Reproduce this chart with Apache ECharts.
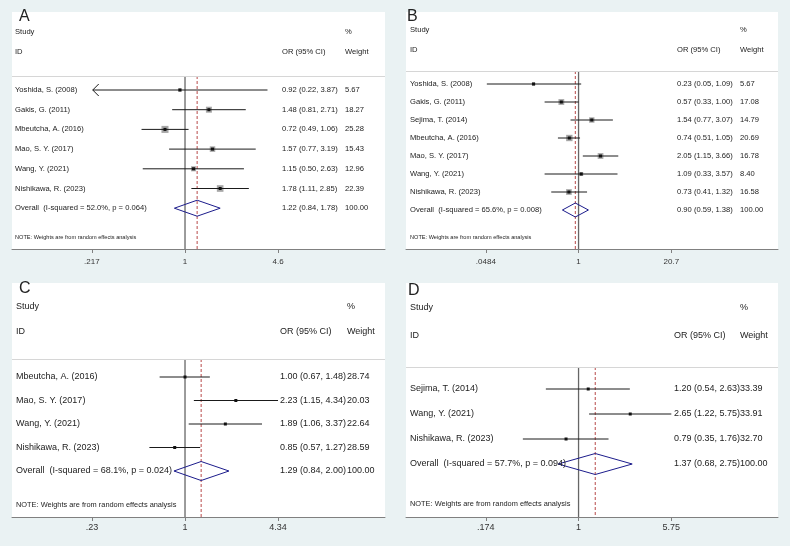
<!DOCTYPE html>
<html><head><meta charset="utf-8">
<script src="https://cdn.jsdelivr.net/npm/echarts@6/dist/echarts.min.js"></script>
<style>html,body{margin:0;padding:0;background:#eaf2f3}#c{width:790px;height:546px}</style>
</head><body><div id="c"></div><script>
// ---------------- data ----------------
const studiesA = ['Yoshida, S. (2008)', 'Gakis, G. (2011)', 'Mbeutcha, A. (2016)', 'Mao, S. Y. (2017)', 'Wang, Y. (2021)', 'Nishikawa, R. (2023)'];
const orA = [0.92, 1.48, 0.72, 1.57, 1.15, 1.78];
const lowA = [0.22, 0.81, 0.49, 0.77, 0.50, 1.11];
const highA = [3.87, 2.71, 1.06, 3.19, 2.63, 2.85];
const weightA = [5.67, 18.27, 25.28, 15.43, 12.96, 22.39];
const arrowLowA = [true, false, false, false, false, false];
const overallA = [1.22, 0.84, 1.78];
const hetA = ['52.0%', '0.064'];
const ticksA = [0.217, 1, 4.6];
const tickLabelsA = ['.217', '1', '4.6'];

const studiesB = ['Yoshida, S. (2008)', 'Gakis, G. (2011)', 'Sejima, T. (2014)', 'Mbeutcha, A. (2016)', 'Mao, S. Y. (2017)', 'Wang, Y. (2021)', 'Nishikawa, R. (2023)'];
const orB = [0.23, 0.57, 1.54, 0.74, 2.05, 1.09, 0.73];
const lowB = [0.05, 0.33, 0.77, 0.51, 1.15, 0.33, 0.41];
const highB = [1.09, 1.00, 3.07, 1.05, 3.66, 3.57, 1.32];
const weightB = [5.67, 17.08, 14.79, 20.69, 16.78, 8.40, 16.58];
const arrowLowB = [false, false, false, false, false, false, false];
const overallB = [0.90, 0.59, 1.38];
const hetB = ['65.6%', '0.008'];
const ticksB = [0.0484, 1, 20.7];
const tickLabelsB = ['.0484', '1', '20.7'];

const studiesC = ['Mbeutcha, A. (2016)', 'Mao, S. Y. (2017)', 'Wang, Y. (2021)', 'Nishikawa, R. (2023)'];
const orC = [1.00, 2.23, 1.89, 0.85];
const lowC = [0.67, 1.15, 1.06, 0.57];
const highC = [1.48, 4.34, 3.37, 1.27];
const weightC = [28.74, 20.03, 22.64, 28.59];
const arrowLowC = [false, false, false, false];
const overallC = [1.29, 0.84, 2.00];
const hetC = ['68.1%', '0.024'];
const ticksC = [0.23, 1, 4.34];
const tickLabelsC = ['.23', '1', '4.34'];

const studiesD = ['Sejima, T. (2014)', 'Wang, Y. (2021)', 'Nishikawa, R. (2023)'];
const orD = [1.20, 2.65, 0.79];
const lowD = [0.54, 1.22, 0.35];
const highD = [2.63, 5.75, 1.76];
const weightD = [33.39, 33.91, 32.70];
const arrowLowD = [false, false, false];
const overallD = [1.37, 0.68, 2.75];
const hetD = ['57.7%', '0.094'];
const ticksD = [0.174, 1, 5.75];
const tickLabelsD = ['.174', '1', '5.75'];

const panelLetters = ['A', 'B', 'C', 'D'];
const headerStudy = ['Study', 'ID'];
const headerOR = 'OR (95% CI)';
const headerWeight = ['%', 'Weight'];
const noteText = 'NOTE: Weights are from random effects analysis';
// ---------------- layout ----------------
const FONT = "'Liberation Sans', Arial, sans-serif";
const layouts = [
  {left:12, right:385, whiteTop:12, sep:76, row0:90, pitch:19.7, axisY:249, h1:32, h2:52, letterX:19, letterY:17, noteY:237, font:7.6, noteFont:5.6, tickFont:8, tickMargin:9, diamondH:8, boxScale:1.4, nameX:3, orX:270, wX:333},
  {left:406, right:778, whiteTop:12, sep:71, row0:84, pitch:18, axisY:249, h1:30, h2:50, letterX:407, letterY:17, noteY:237, font:7.6, noteFont:5.6, tickFont:8, tickMargin:9, diamondH:7, boxScale:1.4, nameX:4, orX:271, wX:334},
  {left:12, right:385, whiteTop:283, sep:359, row0:377, pitch:23.5, axisY:517, h1:307, h2:332, letterX:19, letterY:289, noteY:505, font:9, noteFont:7.4, tickFont:9, tickMargin:6, diamondH:9.5, boxScale:0, nameX:4, orX:268, wX:335},
  {left:406, right:778, whiteTop:283, sep:367, row0:389, pitch:25, axisY:517, h1:308, h2:336, letterX:408, letterY:291, noteY:504, font:9, noteFont:7.4, tickFont:9, tickMargin:6, diamondH:10.5, boxScale:0, nameX:4, orX:268, wX:334}
];
const panels = [
  {studies:studiesA, or:orA, lo:lowA, hi:highA, w:weightA, arrow:arrowLowA, overall:overallA, het:hetA, ticks:ticksA, tickLabels:tickLabelsA},
  {studies:studiesB, or:orB, lo:lowB, hi:highB, w:weightB, arrow:arrowLowB, overall:overallB, het:hetB, ticks:ticksB, tickLabels:tickLabelsB},
  {studies:studiesC, or:orC, lo:lowC, hi:highC, w:weightC, arrow:arrowLowC, overall:overallC, het:hetC, ticks:ticksC, tickLabels:tickLabelsC},
  {studies:studiesD, or:orD, lo:lowD, hi:highD, w:weightD, arrow:arrowLowD, overall:overallD, het:hetD, ticks:ticksD, tickLabels:tickLabelsD}
];
const EXT_L = 1.86, EXT_R = 2.15; // axis extent in units of the outer tick (log space)

const f2 = v => v.toFixed(2);
const grids = [], xAxes = [], yAxes = [], series = [], graphics = [];

panels.forEach((P, i) => {
  const L = layouts[i];
  const T = P.ticks[2];
  const yMin = -(L.row0 - L.sep) / L.pitch;
  const yMax = (L.axisY - L.row0) / L.pitch;
  const font = L.font + 'px ' + FONT;
  grids.push({left:L.left, width:L.right - L.left, top:L.sep, height:L.axisY - L.sep, show:true, backgroundColor:'#fff', borderWidth:0});
  xAxes.push({
    gridIndex:i, type:'log', min:Math.pow(T, -EXT_L), max:Math.pow(T, EXT_R), position:'bottom',
    axisLine:{show:true, onZero:false, lineStyle:{color:'#808080', width:1}},
    axisTick:{show:true, length:4, customValues:P.ticks, lineStyle:{color:'#808080'}},
    axisLabel:{customValues:P.ticks, fontSize:L.tickFont, fontFamily:FONT, color:'#333', margin:L.tickMargin,
      formatter: v => { let b = 0; P.ticks.forEach((t, j) => { if (Math.abs(Math.log(t / v)) < Math.abs(Math.log(P.ticks[b] / v))) b = j; }); return P.tickLabels[b]; }},
    splitLine:{show:false}
  });
  yAxes.push({gridIndex:i, type:'value', inverse:true, min:yMin, max:yMax, show:false});

  // overall row + reference lines
  series.push({
    type:'custom', xAxisIndex:i, yAxisIndex:i, clip:false, z:2,
    encode:{x:[0, 2, 3], y:1},
    data:[[P.overall[0], P.studies.length, P.overall[1], P.overall[2]]],
    renderItem:(params, api) => {
      const r = api.value(1);
      const c = api.coord([api.value(0), r]);
      const lo = api.coord([api.value(2), r]);
      const hi = api.coord([api.value(3), r]);
      const top1 = api.coord([1, yMin]), bot1 = api.coord([1, yMax]);
      const topO = api.coord([api.value(0), yMin]), botO = api.coord([api.value(0), yMax]);
      const h = L.diamondH;
      return {type:'group', children:[
        {type:'line', shape:{x1:top1[0], y1:top1[1], x2:bot1[0], y2:bot1[1]}, style:{stroke:'#666', lineWidth:1.3}},
        {type:'line', shape:{x1:topO[0], y1:topO[1], x2:botO[0], y2:botO[1]}, style:{stroke:'#b84a4a', lineWidth:1, lineDash:[3, 2]}},
        {type:'polygon', shape:{points:[[lo[0], c[1]], [c[0], c[1] - h], [hi[0], c[1]], [c[0], c[1] + h]]}, style:{stroke:'#1c1c8c', fill:null, lineWidth:1}},
        {type:'text', style:{text:'Overall  (I-squared = ' + P.het[0] + ', p = ' + P.het[1] + ')', x:L.left + L.nameX, y:c[1], font:font, fill:'#222', align:'left', verticalAlign:'middle'}},
        {type:'text', style:{text:f2(api.value(0)) + ' (' + f2(api.value(2)) + ', ' + f2(api.value(3)) + ')', x:L.left + L.orX, y:c[1], font:font, fill:'#222', align:'left', verticalAlign:'middle'}},
        {type:'text', style:{text:'100.00', x:L.left + L.wX, y:c[1], font:font, fill:'#222', align:'left', verticalAlign:'middle'}},
        {type:'text', style:{text:noteText, x:L.left + L.nameX, y:L.noteY, font:L.noteFont + 'px ' + FONT, fill:'#222', align:'left', verticalAlign:'middle'}}
      ]};
    }
  });
  // studies
  series.push({
    type:'custom', xAxisIndex:i, yAxisIndex:i, clip:false, z:3,
    encode:{x:[0, 2, 3], y:1},
    data:P.studies.map((s, k) => [P.or[k], k, P.lo[k], P.hi[k], P.w[k]]),
    renderItem:(params, api) => {
      const k = params.dataIndex;
      const r = api.value(1);
      const c = api.coord([api.value(0), r]);
      const lo = api.coord([api.value(2), r]);
      const hi = api.coord([api.value(3), r]);
      const ch = [];
      const s = L.boxScale * Math.sqrt(api.value(4));
      if (s > 0) ch.push({type:'rect', shape:{x:c[0] - s / 2, y:c[1] - s / 2, width:s, height:s}, style:{fill:'#a6a6a6'}});
      ch.push({type:'line', shape:{x1:lo[0], y1:c[1], x2:hi[0], y2:c[1]}, style:{stroke:'#1a1a1a', lineWidth:1}});
      if (P.arrow[k]) ch.push({type:'polyline', shape:{points:[[lo[0] + 6, c[1] - 6], [lo[0], c[1]], [lo[0] + 6, c[1] + 6]]}, style:{stroke:'#1a1a1a', fill:null, lineWidth:1}});
      ch.push({type:'rect', shape:{x:c[0] - 1.5, y:c[1] - 1.5, width:3, height:3}, style:{fill:'#111'}});
      ch.push({type:'text', style:{text:P.studies[k], x:L.left + L.nameX, y:c[1], font:font, fill:'#222', align:'left', verticalAlign:'middle'}});
      ch.push({type:'text', style:{text:f2(api.value(0)) + ' (' + f2(api.value(2)) + ', ' + f2(api.value(3)) + ')', x:L.left + L.orX, y:c[1], font:font, fill:'#222', align:'left', verticalAlign:'middle'}});
      ch.push({type:'text', style:{text:f2(api.value(4)), x:L.left + L.wX, y:c[1], font:font, fill:'#222', align:'left', verticalAlign:'middle'}});
      return {type:'group', children:ch};
    }
  });

  // header area (white), separator, header texts, panel letter
  graphics.push({type:'rect', z:1, shape:{x:L.left, y:L.whiteTop, width:L.right - L.left, height:L.sep - L.whiteTop}, style:{fill:'#fff'}});
  graphics.push({type:'line', z:10, shape:{x1:L.left, y1:L.sep + 0.5, x2:L.right, y2:L.sep + 0.5}, style:{stroke:'#d6d6d6', lineWidth:1}});
  const tx = (t, x, y) => ({type:'text', z:10, style:{text:t, x:x, y:y, font:font, fill:'#222', align:'left', verticalAlign:'middle'}});
  graphics.push(tx(headerStudy[0], L.left + L.nameX, L.h1));
  graphics.push(tx(headerStudy[1], L.left + L.nameX, L.h2));
  graphics.push(tx(headerOR, L.left + L.orX, L.h2));
  graphics.push(tx(headerWeight[0], L.left + L.wX, L.h1));
  graphics.push(tx(headerWeight[1], L.left + L.wX, L.h2));
  graphics.push({type:'text', z:10, style:{text:panelLetters[i], x:L.letterX, y:L.letterY, font:'16px ' + FONT, fill:'#222', align:'left', verticalAlign:'middle'}});
});

const chart = echarts.init(document.getElementById('c'));
chart.setOption({
  backgroundColor:'#eaf2f3',
  animation:false,
  grid:grids, xAxis:xAxes, yAxis:yAxes, series:series,
  graphic:{elements:graphics}
});
</script></body></html>
